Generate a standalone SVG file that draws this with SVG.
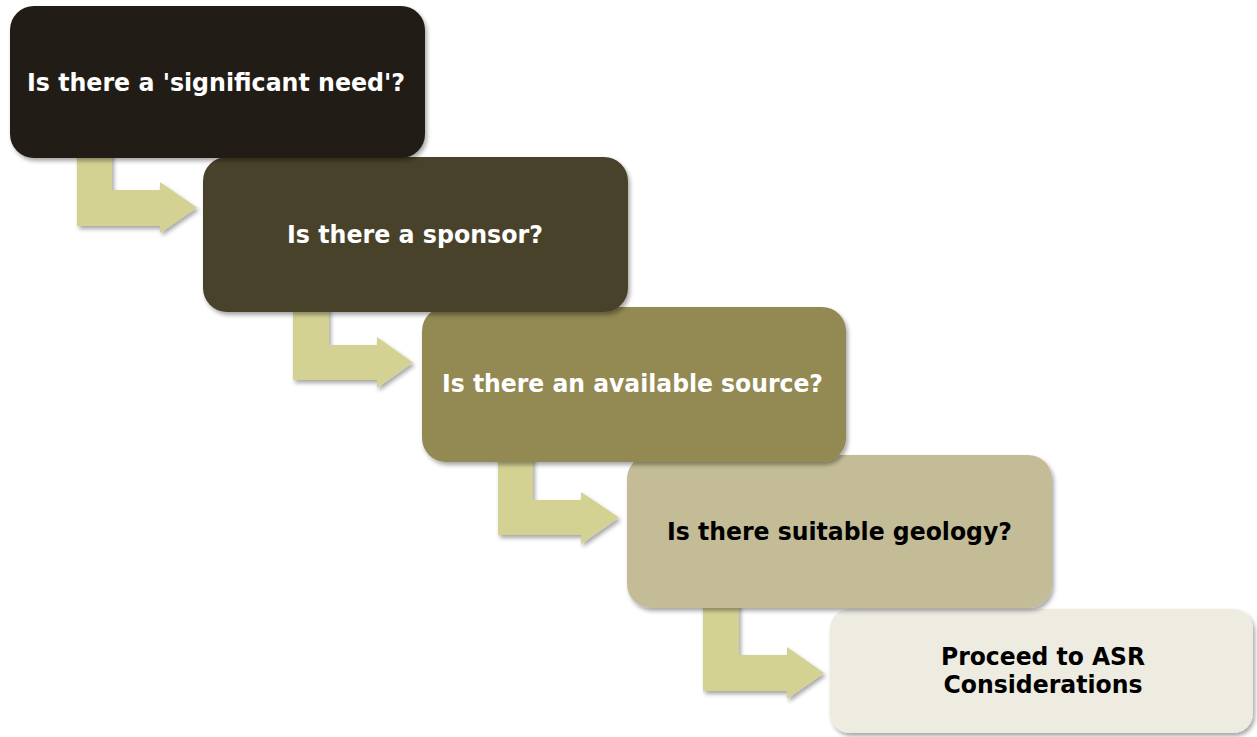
<svg xmlns="http://www.w3.org/2000/svg" width="1257" height="737" viewBox="0 0 1257 737">
<defs>
<filter id="sh" x="-10%" y="-10%" width="125%" height="130%">
<feDropShadow dx="2" dy="3" stdDeviation="2.2" flood-color="#000" flood-opacity="0.35"/>
</filter>
<style>
.arr{fill:#D4D293;filter:url(#sh)}
.box{filter:url(#sh)}
.t{font-family:"DejaVu Sans","Verdana",sans-serif;font-weight:bold;font-size:24px;text-anchor:middle}
.w{fill:#FFFFFF}
.k{fill:#000000}
</style>
</defs>
<rect width="1257" height="737" fill="#FFFFFF"/>
<g id="connectors">
<path class="arr" d="M77,150 L112,150 L112,190 L160,190 L160,182 L197,207.5 L160,233 L160,226 L77,226 Z"/>
<path class="arr" d="M293,305 L329,305 L329,345 L377,345 L377,337 L413,362.5 L377,388 L377,380 L293,380 Z"/>
<path class="arr" d="M498,455 L533,455 L533,500 L581,500 L581,492 L619,517.5 L581,544 L581,535 L498,535 Z"/>
<path class="arr" d="M703,600 L739,600 L739,655 L787,655 L787,647 L824,673 L787,699 L787,691 L703,691 Z"/>
</g>
<g id="node5">
<rect class="box" x="830" y="609" width="423" height="124" rx="20" fill="#EEEBE0"/>
<text class="t k" x="1043" y="665" textLength="204" lengthAdjust="spacingAndGlyphs">Proceed to ASR</text>
<text class="t k" x="1043" y="693" textLength="199" lengthAdjust="spacingAndGlyphs">Considerations</text>
</g>
<g id="node4">
<rect class="box" x="627" y="455" width="425" height="153" rx="24" fill="#C4BC96"/>
<text class="t k" x="839.5" y="540" textLength="345" lengthAdjust="spacingAndGlyphs">Is there suitable geology?</text>
</g>
<g id="node3">
<rect class="box" x="422" y="307" width="424" height="155" rx="24" fill="#938953"/>
<text class="t w" x="632.5" y="392" textLength="381" lengthAdjust="spacingAndGlyphs">Is there an available source?</text>
</g>
<g id="node2">
<rect class="box" x="203" y="157" width="425" height="155" rx="24" fill="#4A432C"/>
<text class="t w" x="415" y="243" textLength="256" lengthAdjust="spacingAndGlyphs">Is there a sponsor?</text>
</g>
<g id="node1">
<rect class="box" x="10" y="6" width="415" height="152" rx="24" fill="#201E12"/>
<text class="t w" x="216" y="91" textLength="378" lengthAdjust="spacingAndGlyphs">Is there a 'significant need'?</text>
</g>
</svg>
